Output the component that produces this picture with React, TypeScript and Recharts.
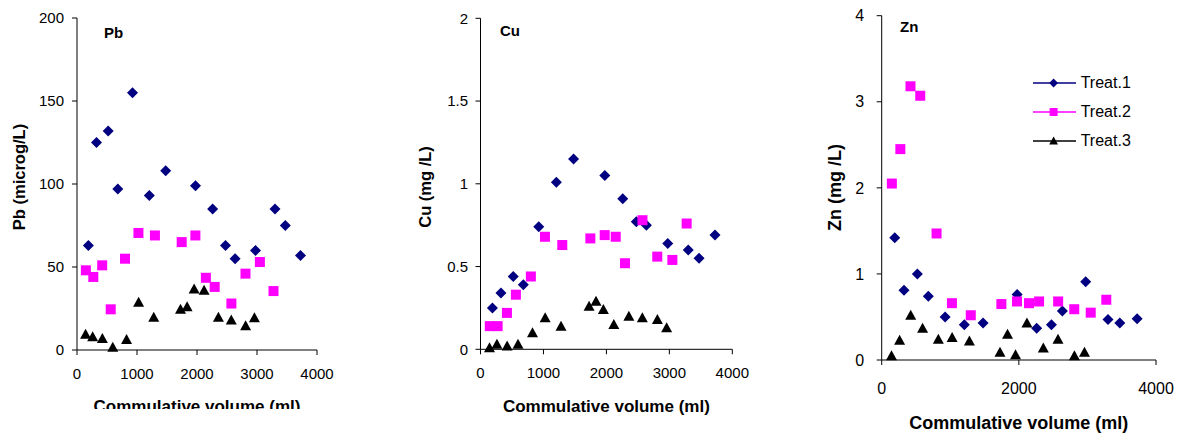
import React from 'react';
import { ScatterChart, Scatter, XAxis, YAxis, Legend, Label } from 'recharts';

// cumulative volume (ml) at each sampling, per treatment
const volT1 = [190, 325, 520, 680, 925, 1205, 1478, 1975, 2260, 2475, 2635, 2975, 3300, 3472, 3725];
const volT2 = [148, 272, 420, 562, 800, 1024, 1299, 1745, 1973, 2148, 2295, 2573, 2808, 3048, 3275];
const volT3 = [143, 261, 423, 596, 826, 1027, 1279, 1725, 1835, 1952, 2118, 2357, 2571, 2810, 2957];

// Pb (microg/L)
const pbT1 = [63, 125, 132, 97, 155, 93, 108, 99, 85, 63, 55, 60, 85, 75, 57];
const pbT2 = [48, 44, 51, 24.5, 55, 70.5, 69, 65, 69, 43.5, 38, 28, 46, 53, 35.5];
const pbT3 = [9.5, 8, 7, 1.6, 6.4, 28.7, 19.7, 24.5, 26, 36.7, 36, 19.7, 18, 14.6, 19.5];

// Cu (mg/L)
const cuT1 = [0.25, 0.34, 0.44, 0.39, 0.74, 1.01, 1.15, 1.05, 0.91, 0.77, 0.75, 0.64, 0.6, 0.55, 0.69];
const cuT2 = [0.14, 0.14, 0.22, 0.33, 0.44, 0.68, 0.63, 0.67, 0.69, 0.68, 0.52, 0.78, 0.56, 0.54, 0.76];
const cuT3 = [0.01, 0.03, 0.02, 0.03, 0.1, 0.19, 0.14, 0.26, 0.29, 0.24, 0.15, 0.2, 0.19, 0.18, 0.13];

// Zn (mg/L)
const znT1 = [1.42, 0.81, 1.0, 0.74, 0.5, 0.41, 0.43, 0.76, 0.37, 0.41, 0.57, 0.91, 0.47, 0.43, 0.48];
const znT2 = [2.05, 2.45, 3.18, 3.07, 1.47, 0.66, 0.52, 0.65, 0.68, 0.66, 0.68, 0.68, 0.59, 0.55, 0.7];
const znT3 = [0.05, 0.23, 0.52, 0.37, 0.24, 0.26, 0.22, 0.09, 0.3, 0.06, 0.43, 0.14, 0.24, 0.05, 0.09];

const seriesNames = ['Treat.1', 'Treat.2', 'Treat.3'];
const volTicks4 = [0, 1000, 2000, 3000, 4000];
const volTicks2 = [0, 2000, 4000];

const NAVY = '#000080';
const PINK = '#FF00FF';
const BLACK = '#000000';

const pts = (xs: number[], ys: number[]) => xs.map((x, i) => ({ x, y: ys[i] }));

const drawMarker = (kind: string, cx: number, cy: number, s = 1) => {
  if (kind === 'diamond') {
    const r = 5.5 * s;
    return <polygon points={`${cx},${cy - r} ${cx + r},${cy} ${cx},${cy + r} ${cx - r},${cy}`} fill={NAVY} />;
  }
  if (kind === 'square') {
    const h = 5 * s;
    return <rect x={cx - h} y={cy - h} width={2 * h} height={2 * h} fill={PINK} />;
  }
  const w = 5.5 * s;
  return <polygon points={`${cx},${cy - 5.5 * s} ${cx + w},${cy + 4.5 * s} ${cx - w},${cy + 4.5 * s}`} fill={BLACK} />;
};

const kinds = ['diamond', 'square', 'triangle'];
const colors = [NAVY, PINK, BLACK];

const shapeFor = (kind: string) => (p: any) => drawMarker(kind, p.cx, p.cy);

interface PanelCfg {
  left: number;
  width: number;
  clip: number;
  plot: { left: number; right: number; top: number; bottom: number };
  yDomain: [number, number];
  yTicks: number[];
  xTicks: number[];
  tickFont: number;
  xTickMargin: number;
  yTickMargin: number;
  title: string;
  titleX: number;
  titleY: number;
  yLabel: string;
  yLabelX: number;
  yLabelY: number;
  yLabelFont: number;
  xLabelY: number;
  xLabelFont: number;
  data: { x: number; y: number }[][];
  legend?: boolean;
}

const panels: PanelCfg[] = [
  {
    left: 0, width: 400, clip: 409,
    plot: { left: 77, right: 317, top: 18, bottom: 350 },
    yDomain: [0, 200], yTicks: [0, 50, 100, 150, 200], xTicks: volTicks4,
    tickFont: 15, xTickMargin: 13, yTickMargin: 8,
    title: 'Pb', titleX: 104, titleY: 37.7,
    yLabel: 'Pb (microg/L)', yLabelX: 19.3, yLabelY: 177, yLabelFont: 16.5,
    xLabelY: 411.7, xLabelFont: 17,
    data: [pts(volT1, pbT1), pts(volT2, pbT2), pts(volT3, pbT3)],
  },
  {
    left: 400, width: 400, clip: 436,
    plot: { left: 80.5, right: 332.3, top: 18.3, bottom: 349.3 },
    yDomain: [0, 2], yTicks: [0, 0.5, 1, 1.5, 2], xTicks: volTicks4,
    tickFont: 15, xTickMargin: 13, yTickMargin: 7.5,
    title: 'Cu', titleX: 100, titleY: 36,
    yLabel: 'Cu (mg /L)', yLabelX: 25, yLabelY: 187, yLabelFont: 16.5,
    xLabelY: 411.7, xLabelFont: 17,
    data: [pts(volT1, cuT1), pts(volT2, cuT2), pts(volT3, cuT3)],
  },
  {
    left: 800, width: 390, clip: 436,
    plot: { left: 81.7, right: 356, top: 15.7, bottom: 360 },
    yDomain: [0, 4], yTicks: [0, 1, 2, 3, 4], xTicks: volTicks2,
    tickFont: 16, xTickMargin: 18, yTickMargin: 12.5,
    title: 'Zn', titleX: 100, titleY: 31.7,
    yLabel: 'Zn (mg /L)', yLabelX: 34.7, yLabelY: 187.5, yLabelFont: 18,
    xLabelY: 429.3, xLabelFont: 18,
    data: [pts(volT1, znT1), pts(volT2, znT2), pts(volT3, znT3)],
    legend: true,
  },
];

const renderLegend = () => (
  <div style={{ fontSize: 16, color: '#000' }}>
    {seriesNames.map((name, i) => (
      <div key={name} style={{ display: 'flex', alignItems: 'center', height: 29 }}>
        <svg width={43} height={14}>
          <line x1={0} y1={7} x2={43} y2={7} stroke={colors[i]} strokeWidth={1.5} />
          {drawMarker(kinds[i], 20.6, 7, 0.8)}
        </svg>
        <span style={{ marginLeft: 5 }}>{name}</span>
      </div>
    ))}
  </div>
);

const Panel = ({ cfg }: { cfg: PanelCfg }) => {
  const H = 436;
  const midX = (cfg.plot.left + cfg.plot.right) / 2;
  return (
    <div style={{ position: 'absolute', left: cfg.left, top: 0, width: cfg.width, height: cfg.clip, overflow: 'hidden' }}>
      <ScatterChart
        width={cfg.width}
        height={H}
        margin={{ top: cfg.plot.top, right: cfg.width - cfg.plot.right, bottom: 0, left: 0 }}
      >
        <XAxis
          type="number"
          dataKey="x"
          domain={[0, 4000]}
          ticks={cfg.xTicks}
          interval={0}
          height={H - cfg.plot.bottom}
          tickSize={5}
          tickMargin={cfg.xTickMargin}
          axisLine={{ stroke: '#000' }}
          tickLine={{ stroke: '#000' }}
          tick={{ fill: '#000', fontSize: cfg.tickFont }}
          label={
            <Label
              content={() => (
                <text x={midX} y={cfg.xLabelY} textAnchor="middle" fontSize={cfg.xLabelFont} fontWeight="bold" fill="#000">
                  Commulative volume (ml)
                </text>
              )}
            />
          }
        />
        <YAxis
          type="number"
          dataKey="y"
          domain={cfg.yDomain}
          ticks={cfg.yTicks}
          interval={0}
          width={cfg.plot.left}
          tickSize={5}
          tickMargin={cfg.yTickMargin}
          axisLine={{ stroke: '#000' }}
          tickLine={{ stroke: '#000' }}
          tick={{ fill: '#000', fontSize: cfg.tickFont }}
          label={
            <Label
              content={() => (
                <g>
                  <text
                    x={cfg.yLabelX}
                    y={cfg.yLabelY}
                    transform={`rotate(-90 ${cfg.yLabelX} ${cfg.yLabelY})`}
                    textAnchor="middle"
                    dominantBaseline="central"
                    fontSize={cfg.yLabelFont}
                    fontWeight="bold"
                    fill="#000"
                  >
                    {cfg.yLabel}
                  </text>
                  <text x={cfg.titleX} y={cfg.titleY} fontSize={15} fontWeight="bold" fill="#000">
                    {cfg.title}
                  </text>
                </g>
              )}
            />
          }
        />
        {cfg.data.map((d, i) => (
          <Scatter
            key={seriesNames[i]}
            name={seriesNames[i]}
            data={d}
            fill={colors[i]}
            shape={shapeFor(kinds[i])}
            isAnimationActive={false}
          />
        ))}
        {cfg.legend && (
          <Legend
            layout="vertical"
            align="center"
            verticalAlign="middle"
            content={renderLegend}
            wrapperStyle={{ left: 232.7, top: 68.5, width: 130 }}
          />
        )}
      </ScatterChart>
    </div>
  );
};

export default function App() {
  return (
    <div
      style={{
        position: 'absolute',
        left: 0,
        top: 0,
        width: 1190,
        height: 436,
        background: '#fff',
        fontFamily: 'Arial, "Liberation Sans", sans-serif',
      }}
    >
      {panels.map((p) => (
        <Panel key={p.title} cfg={p} />
      ))}
    </div>
  );
}
